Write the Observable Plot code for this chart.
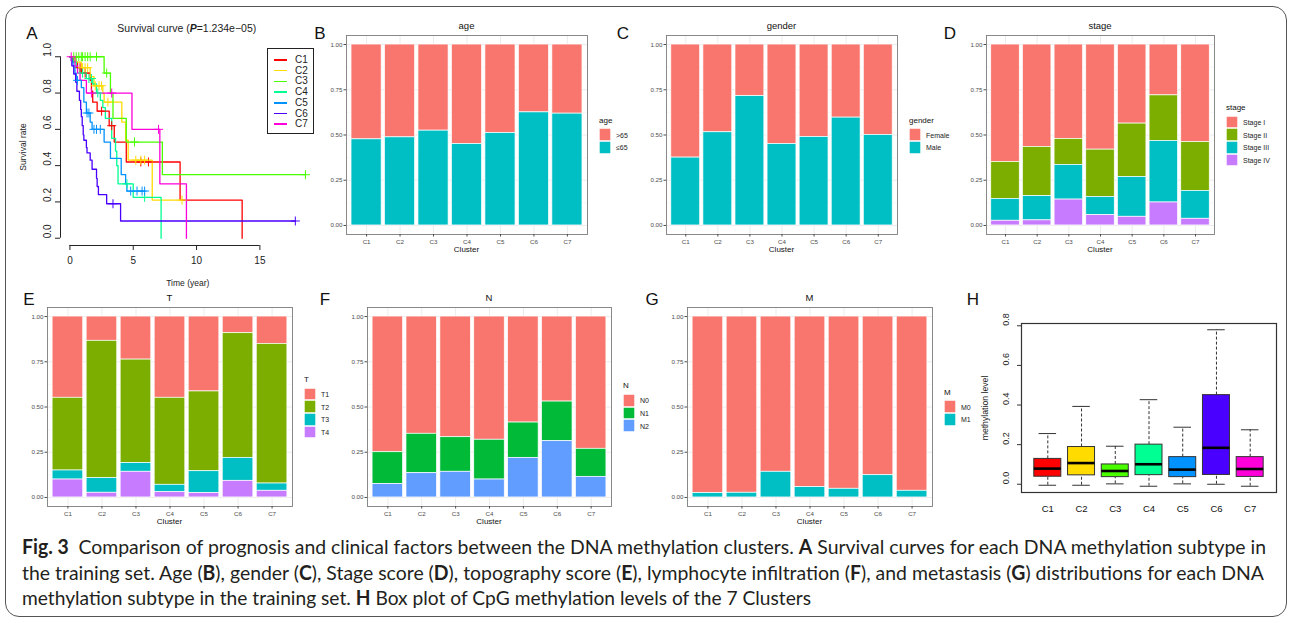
<!DOCTYPE html>
<html><head><meta charset="utf-8">
<script src="https://cdn.jsdelivr.net/npm/d3@7"></script>
<script src="https://cdn.jsdelivr.net/npm/@observablehq/plot@0.6"></script>
<style>
body{margin:0;background:#fff;}
#fig{position:relative;width:1290px;height:623px;overflow:hidden;font-family:"Liberation Sans",Arial,Helvetica,sans-serif;background:#fff;color:#111;}
.abs{position:absolute;white-space:nowrap;line-height:1;}
</style></head><body><div id="fig"></div>
<script>
// ---------------- data ----------------
const clusters = ["C1","C2","C3","C4","C5","C6","C7"];
const rainbow7 = ["#FF0000","#FFDB00","#49FF00","#00FF92","#0092FF","#4900FF","#FF00DB"];

// Panel A: Kaplan-Meier steps [time (year), survival] and censor marks
const survC1 = [[0,1],[0.3,0.97],[0.6,0.94],[0.9,0.91],[1.6,0.87],[1.7,0.81],[1.8,0.75],[2.15,0.70],[3.1,0.62],[3.5,0.53],[4.45,0.42],[8.7,0.21],[13.6,0]];
const survC2 = [[0,1],[0.4,0.97],[0.9,0.94],[1.6,0.89],[1.9,0.84],[2.6,0.80],[2.7,0.75],[4.1,0.64],[4.4,0.54],[4.6,0.43],[6.5,0.21],[8.85,0.21]];
const survC3 = [[0,1],[2.7,0.91],[3.2,0.80],[3.4,0.66],[4.45,0.53],[7.3,0.35],[18.6,0.35]];
const survC4 = [[0,1],[0.2,0.97],[0.5,0.94],[0.8,0.91],[1.3,0.88],[1.8,0.85],[2.1,0.80],[2.4,0.76],[2.6,0.72],[2.8,0.66],[3.3,0.55],[3.6,0.48],[3.7,0.40],[3.8,0.30],[5.0,0.225],[7.2,0]];
const survC5 = [[0,1],[0.1,0.98],[0.25,0.95],[0.4,0.91],[0.5,0.87],[0.9,0.83],[1.1,0.75],[1.3,0.69],[1.6,0.64],[1.75,0.60],[2.7,0.53],[3.2,0.44],[4.05,0.35],[4.4,0.30],[4.5,0.26],[5.9,0.26]];
const survC6 = [[0,1],[0.15,0.95],[0.3,0.905],[0.45,0.86],[0.55,0.81],[0.75,0.76],[0.85,0.71],[0.9,0.67],[0.97,0.62],[1.05,0.57],[1.1,0.54],[1.3,0.50],[1.35,0.47],[1.6,0.43],[1.75,0.38],[2.1,0.33],[2.15,0.285],[2.25,0.24],[2.9,0.19],[4.0,0.095],[17.8,0.095]];
const survC7 = [[0,1],[0.4,0.95],[0.6,0.91],[0.8,0.87],[1.3,0.80],[4.9,0.60],[7.1,0.30],[9.2,0]];
const censC1 = [[0.8,0.94],[1.2,0.91],[2.5,0.70],[3.3,0.62],[5.6,0.42],[6.2,0.42]];
const censC2 = [[1.0,0.94],[1.2,0.94],[1.4,0.94],[2.0,0.84],[2.3,0.84],[2.5,0.84],[3.0,0.75],[5.2,0.43],[5.6,0.43],[5.9,0.43],[8.85,0.21]];
const censC3 = [[0.3,1],[0.5,1],[0.7,1],[0.9,1],[1.0,1],[1.2,1],[1.4,1],[1.6,1],[2.1,1],[2.9,0.91],[5.1,0.53],[18.6,0.35]];
const censC4 = [[1.0,0.91],[1.5,0.88],[1.7,0.88],[2.2,0.80],[4.5,0.30],[5.9,0.225]];
const censC5 = [[0.6,0.87],[1.35,0.69],[1.5,0.69],[1.9,0.60],[2.1,0.60],[2.4,0.60],[4.8,0.26],[5.3,0.26],[5.7,0.26],[5.9,0.26]];
const censC6 = [[3.4,0.19],[17.8,0.095]];
const censC7 = [[0.1,1],[1.7,0.80],[3.3,0.80],[7.0,0.60]];
const survXTicks = [0,5,10,15];
const survYTicks = [0,0.2,0.4,0.6,0.8,1.0];

// Panel B: age
const ageKeys = [">65","≤65"];
const ageOver65 = [0.524,0.513,0.476,0.550,0.489,0.375,0.382];
const ageUpTo65 = [0.476,0.487,0.524,0.450,0.511,0.625,0.618];
// Panel C: gender
const genderKeys = ["Female","Male"];
const genderFemale = [0.625,0.485,0.285,0.550,0.511,0.404,0.500];
const genderMale = [0.375,0.515,0.715,0.450,0.489,0.596,0.500];
// Panel D: stage
const stageKeys = ["Stage I","Stage II","Stage III","Stage IV"];
const stageI = [0.649,0.566,0.522,0.581,0.437,0.281,0.539];
const stageII = [0.204,0.272,0.143,0.261,0.295,0.252,0.270];
const stageIII = [0.121,0.134,0.192,0.101,0.220,0.340,0.154];
const stageIV = [0.026,0.028,0.143,0.057,0.048,0.127,0.037];
// Panel E: T
const tKeys = ["T1","T2","T3","T4"];
const tT1 = [0.449,0.134,0.238,0.449,0.414,0.092,0.151];
const tT2 = [0.402,0.759,0.572,0.481,0.441,0.689,0.772];
const tT3 = [0.050,0.081,0.048,0.041,0.121,0.127,0.040];
const tT4 = [0.099,0.026,0.142,0.029,0.024,0.092,0.037];
// Panel F: N
const nKeys = ["N0","N1","N2"];
const nN0 = [0.750,0.648,0.667,0.681,0.586,0.470,0.731];
const nN1 = [0.176,0.218,0.191,0.220,0.195,0.219,0.155];
const nN2 = [0.074,0.134,0.142,0.099,0.219,0.311,0.114];
// Panel G: M
const mKeys = ["M0","M1"];
const mM0 = [0.976,0.974,0.858,0.943,0.952,0.877,0.963];
const mM1 = [0.024,0.026,0.142,0.057,0.048,0.123,0.037];
const propTicks = [0,0.25,0.5,0.75,1];
const propMinor = [0.125,0.375,0.625,0.875];

// Panel H: box plot stats
const boxMin = [-0.005,-0.005,0.002,-0.010,0.002,0.000,-0.010];
const boxQ1  = [0.038,0.045,0.036,0.046,0.036,0.047,0.037];
const boxMed = [0.079,0.107,0.067,0.101,0.074,0.184,0.077];
const boxQ3  = [0.128,0.188,0.100,0.200,0.137,0.450,0.137];
const boxMax = [0.256,0.393,0.192,0.427,0.288,0.780,0.275];
const boxYTicks = [0,0.2,0.4,0.6,0.8];

const hue2 = ["#F8766D","#00BFC4"];
const hue3 = ["#F8766D","#00BA38","#619CFF"];
const hue4 = ["#F8766D","#7CAE00","#00BFC4","#C77CFF"];

// ---------------- helpers ----------------
const fig = document.getElementById("fig");
const FONT = '"Liberation Sans", Arial, Helvetica, sans-serif';

function addText(text, x, y, o = {}) {
  const d = document.createElement("div");
  d.className = "abs";
  d.innerHTML = text;
  const tx = o.anchor === "left" ? "0" : "-50%";
  Object.assign(d.style, {
    left: x + "px", top: y + "px", fontSize: (o.size || 10) + "px",
    color: o.color || "#111", fontWeight: o.weight || "normal",
    fontFamily: o.family || FONT,
    transform: `translate(${tx},-50%)` + (o.rotate ? ` rotate(${o.rotate}deg)` : "")
  });
  fig.appendChild(d);
  return d;
}
function place(svg, left, top) {
  Object.assign(svg.style, {position: "absolute", left: left + "px", top: top + "px", overflow: "visible", background: "transparent", maxWidth: "none"});
  fig.appendChild(svg);
}

function ggLegend(x, cy, title, keys, colors) {
  const n = keys.length, row = 12.7;
  const keysTop = cy + 6.5 - n * row / 2;
  addText(title, x, keysTop - 7.5, {size: 8, anchor: "left"});
  keys.forEach((k, i) => {
    const d = document.createElement("div");
    d.className = "abs";
    Object.assign(d.style, {left: x + "px", top: (keysTop + i * row) + "px", width: "12px", height: row + "px",
      background: colors[i], boxShadow: "inset 0 0 0 0.7px #fff"});
    fig.appendChild(d);
    addText(k, x + 17, keysTop + i * row + row / 2, {size: 7, anchor: "left", color: "#222"});
  });
}

function stackPanel({frame, title, keys, colors, values}) {
  const [x0, y0, x1, y1] = frame;
  const ml = 30, mr = 1, mt = 1, mb = 14;
  const rows = [];
  keys.forEach((k, j) => clusters.forEach((c, i) => rows.push({cluster: c, key: k, value: values[j][i]})));
  const svg = Plot.plot({
    width: x1 - x0 + ml + mr, height: y1 - y0 + mt + mb,
    marginLeft: ml, marginRight: mr, marginTop: mt, marginBottom: mb,
    style: {fontFamily: FONT, fontSize: "6.2px", background: "transparent"},
    x: {type: "band", domain: clusters, paddingInner: 0.1, paddingOuter: 0.15, round: false, axis: null},
    y: {domain: [-0.05, 1.05], axis: null},
    color: {domain: keys, range: colors},
    marks: [
      Plot.gridY(propMinor, {stroke: "#f3f3f3", strokeOpacity: 1, strokeWidth: 0.6}),
      Plot.gridY(propTicks, {stroke: "#e9e9e9", strokeOpacity: 1, strokeWidth: 0.9}),
      Plot.gridX(clusters, {stroke: "#e9e9e9", strokeOpacity: 1, strokeWidth: 0.9}),
      Plot.barY(rows, {x: "cluster", y: "value", fill: "key", stroke: "white", strokeWidth: 0.7, order: keys.slice().reverse()}),
      Plot.frame({stroke: "#7d7d7d", strokeWidth: 0.9}),
      Plot.axisY(propTicks, {tickFormat: d => d.toFixed(2), tickSize: 2.5, tickPadding: 1.5, color: "#4d4d4d", fontSize: 6.2, label: null}),
      Plot.axisX(clusters, {tickSize: 2.5, tickPadding: 2.2, color: "#4d4d4d", fontSize: 6.2, label: null})
    ]
  });
  place(svg, x0 - ml, y0 - mt);
  const cx = (x0 + x1) / 2;
  addText(title, cx, y0 - 9, {size: 9.5});
  addText("Cluster", cx, y1 + 16, {size: 8});
  ggLegend(x1 + 12, (y0 + y1) / 2, title, keys, colors);
}

// ---------------- border ----------------
const border = document.createElement("div");
border.className = "abs";
Object.assign(border.style, {left: "5px", top: "6px", width: "1282px", height: "611px", border: "1.5px solid #555",
  borderRadius: "14px", boxSizing: "border-box"});
fig.appendChild(border);

// ---------------- Panel A ----------------
(function () {
  const x0 = 59.6, x1 = 314, y0 = 48.5, y1 = 244.5;
  const ml = 20, mr = 1, mt = 1, mb = 30;
  const survAll = [survC1, survC2, survC3, survC4, survC5, survC6, survC7];
  const censAll = [censC1, censC2, censC3, censC4, censC5, censC6, censC7];
  const lines = [], cens = [];
  survAll.forEach((a, i) => a.forEach(([t, s]) => lines.push({cluster: clusters[i], t, s})));
  censAll.forEach((a, i) => a.forEach(([t, s]) => cens.push({cluster: clusters[i], t, s})));
  const tMax = d3.max(lines, d => d.t);
  const xDom = [-0.04 * tMax, tMax * 1.04];
  const yDom = [-0.04, 1.04];
  const svg = Plot.plot({
    width: x1 - x0 + ml + mr, height: y1 - y0 + mt + mb,
    marginLeft: ml, marginRight: mr, marginTop: mt, marginBottom: mb,
    style: {fontFamily: FONT, fontSize: "10px", background: "transparent"},
    x: {domain: xDom, axis: null},
    y: {domain: yDom, axis: null},
    color: {domain: clusters, range: rainbow7},
    marks: [
      Plot.line(lines, {x: "t", y: "s", z: "cluster", stroke: "cluster", curve: "step-after", strokeWidth: 1.3}),
      Plot.dot(cens, {x: "t", y: "s", stroke: "cluster", symbol: "plus", r: 3, strokeWidth: 1}),
      Plot.ruleY([yDom[0]], {x1: survXTicks[0], x2: survXTicks[survXTicks.length - 1], stroke: "#222"}),
      Plot.ruleX([xDom[0]], {y1: survYTicks[0], y2: survYTicks[survYTicks.length - 1], stroke: "#222"}),
      Plot.axisX(survXTicks, {tickSize: 5, tickPadding: 6, color: "#222", fontSize: 10, label: null}),
      Plot.axisY(survYTicks, {tickSize: 5, tickFormat: () => "", color: "#222", label: null}),
      Plot.text(survYTicks, {y: d => d, frameAnchor: "left", dx: -13, rotate: -90, text: d => d.toFixed(1), fontSize: 10, fill: "#222"})
    ]
  });
  place(svg, x0 - ml, y0 - mt);
  addText("Survival curve (<b><i>P</i></b>=1.234e\u221205)", (x0 + x1) / 2, 28, {size: 10.5, color: "#222"});
  addText("Survival rate", 23, (y0 + y1) / 2, {size: 8.5, rotate: -90, color: "#222"});
  addText("Time (year)", (x0 + x1) / 2 + 1, 283, {size: 8.5, color: "#222"});
  // legend box
  const box = document.createElement("div");
  box.className = "abs";
  Object.assign(box.style, {left: "267px", top: "47.5px", width: "47px", height: "86.5px", border: "1px solid #222", boxSizing: "border-box", background: "#fff"});
  fig.appendChild(box);
  clusters.forEach((c, i) => {
    const cy = 60 + i * 10.7;
    const ln = document.createElement("div");
    ln.className = "abs";
    Object.assign(ln.style, {left: "274px", top: (cy - 0.75) + "px", width: "13px", height: "1.5px", background: rainbow7[i]});
    fig.appendChild(ln);
    addText(c, 295, cy, {size: 10, anchor: "left", color: "#222"});
  });
})();

// ---------------- Panels B-G ----------------
stackPanel({frame: [346, 35, 587, 234], title: "age", keys: ageKeys, colors: hue2, values: [ageOver65, ageUpTo65]});
stackPanel({frame: [666, 35, 897, 234], title: "gender", keys: genderKeys, colors: hue2, values: [genderFemale, genderMale]});
stackPanel({frame: [986, 35, 1214, 234], title: "stage", keys: stageKeys, colors: hue4, values: [stageI, stageII, stageIII, stageIV]});
stackPanel({frame: [47, 307, 292, 506], title: "T", keys: tKeys, colors: hue4, values: [tT1, tT2, tT3, tT4]});
stackPanel({frame: [367, 307, 611, 506], title: "N", keys: nKeys, colors: hue3, values: [nN0, nN1, nN2]});
stackPanel({frame: [687, 307, 932, 506], title: "M", keys: mKeys, colors: hue2, values: [mM0, mM1]});

// ---------------- Panel H ----------------
(function () {
  const x0 = 1021, x1 = 1276, y0 = 323, y1 = 492;
  const ml = 40, mr = 1, mt = 1, mb = 24;
  const rows = clusters.map((c, i) => ({i: i + 1, c, min: boxMin[i], q1: boxQ1[i], med: boxMed[i], q3: boxQ3[i], max: boxMax[i]}));
  const lo = d3.min(boxMin), hi = d3.max(boxMax), pad = (hi - lo) * 0.04;
  const n = clusters.length, xpad = n * 0.04;
  const svg = Plot.plot({
    width: x1 - x0 + ml + mr, height: y1 - y0 + mt + mb,
    marginLeft: ml, marginRight: mr, marginTop: mt, marginBottom: mb,
    style: {fontFamily: FONT, fontSize: "9.5px", background: "transparent"},
    x: {domain: [0.5 - xpad, n + 0.5 + xpad], axis: null},
    y: {domain: [lo - pad, hi + pad], axis: null},
    color: {domain: clusters, range: rainbow7},
    marks: [
      Plot.ruleX(rows, {x: "i", y1: "q3", y2: "max", stroke: "#333", strokeDasharray: "3,2"}),
      Plot.ruleX(rows, {x: "i", y1: "min", y2: "q1", stroke: "#333", strokeDasharray: "3,2"}),
      Plot.ruleY(rows, {y: "max", x1: d => d.i - 0.26, x2: d => d.i + 0.26, stroke: "#333"}),
      Plot.ruleY(rows, {y: "min", x1: d => d.i - 0.26, x2: d => d.i + 0.26, stroke: "#333"}),
      Plot.rect(rows, {x1: d => d.i - 0.4, x2: d => d.i + 0.4, y1: "q1", y2: "q3", fill: "c", stroke: "#333", strokeWidth: 1}),
      Plot.ruleY(rows, {y: "med", x1: d => d.i - 0.4, x2: d => d.i + 0.4, stroke: "#000", strokeWidth: 2.6}),
      Plot.frame({stroke: "#333", strokeWidth: 1.2}),
      Plot.axisY(boxYTicks, {tickSize: 4, tickFormat: () => "", color: "#333", label: null}),
      Plot.text(boxYTicks, {y: d => d, frameAnchor: "left", dx: -15, rotate: -90, text: d => d.toFixed(1), fontSize: 9, fill: "#222"}),
      Plot.axisX(rows.map(d => d.i), {tickSize: 0, tickPadding: 13, tickFormat: d => clusters[d - 1], color: "#111", fontSize: 9.5, label: null})
    ]
  });
  place(svg, x0 - ml, y0 - mt);
  addText("methylation level", 985, (y0 + y1) / 2, {size: 8.7, rotate: -90, color: "#222"});
})();

// ---------------- panel letters ----------------
[["A", 32, 33], ["B", 320, 33], ["C", 623, 33], ["D", 950, 33],
 ["E", 29, 299], ["F", 325, 299], ["G", 652, 299], ["H", 973, 299]].forEach(([t, x, y]) => addText(t, x, y, {size: 17, color: "#111"}));

// ---------------- caption ----------------
const capFont = 'Lato, "Open Sans", "Liberation Sans", sans-serif';
const capLines = [
  ['<b>Fig. 3</b>&ensp;Comparison of prognosis and clinical factors between the DNA methylation clusters. <b>A</b> Survival curves for each DNA methylation subtype in', 554, 1244],
  ['the training set. Age (<b>B</b>), gender (<b>C</b>), Stage score (<b>D</b>), topography score (<b>E</b>), lymphocyte infiltration (<b>F</b>), and metastasis (<b>G</b>) distributions for each DNA', 580, 1242],
  ['methylation subtype in the training set. <b>H</b> Box plot of CpG methylation levels of the 7 Clusters', 605, 789]
];
capLines.forEach(([html, base, w]) => {
  const d = document.createElement("div");
  d.className = "abs";
  d.innerHTML = html;
  Object.assign(d.style, {left: "22px", top: (base - 17.7) + "px", fontSize: "20px", fontFamily: capFont, color: "#231f20", transformOrigin: "0 0"});
  fig.appendChild(d);
  const actual = d.getBoundingClientRect().width;
  d.style.transform = `scaleX(${w / actual})`;
});
</script>
</body></html>
